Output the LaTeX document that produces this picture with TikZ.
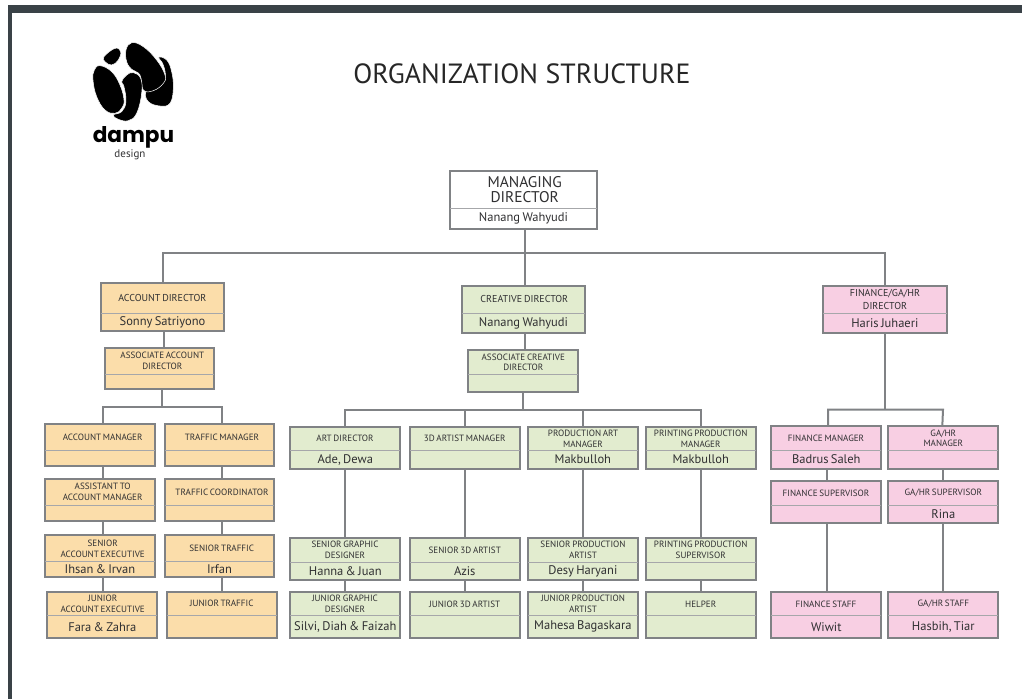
\documentclass[tikz,border=0pt]{standalone}
\usepackage{fontspec}
\setmainfont[WordSpace=0.7]{PT Sans}
\newfontfamily\headfont{PT Sans}
\newfontfamily\logofont{Poppins}
\usetikzlibrary{calc,fit}

\definecolor{framedark}{HTML}{3A4247}
\definecolor{linegray}{HTML}{808285}
\definecolor{inkgray}{HTML}{303032}
\definecolor{accountfill}{HTML}{FBDDAA}
\definecolor{creativefill}{HTML}{E2ECCF}
\definecolor{financefill}{HTML}{F8CFE3}

\newcommand{\orgbox}[8]{
  \node (#2) [orgnode, #1, fit={#3 #4}] {};
  \draw [divider] (#2.west |- 0,#5) -- (#2.east |- 0,#5);
  \coordinate (#2-top) at ($(#2.north)!.5!(#2.north |- 0,#5)$);
  \coordinate (#2-low) at ($(#2.south)!.5!(#2.south |- 0,#5)$);
  \node (#2-title) [titletext, #1, fill=none] at (#6,0 |- #2-top) {#7};
  \if\relax\detokenize{#8}\relax\else
    \node (#2-person) [persontext] at (#2-low) {#8};
  \fi
}

\begin{document}
\begin{tikzpicture}[x=1pt, y=-1pt,
    orgnode/.style={draw=linegray, line width=2pt, inner sep=0pt, outer sep=0pt},
    divider/.style={draw=linegray!70, line width=0.7pt},
    link/.style={draw=linegray, line width=2pt},
    titletext/.style={draw=none, font=\fontsize{9.1}{10.7}\selectfont, text=inkgray, inner sep=0pt, align=center},
    persontext/.style={font=\fontsize{12.5}{14}\selectfont, text=inkgray, inner sep=0pt, align=center},
    account/.style={fill=accountfill},
    creative/.style={fill=creativefill},
    finance/.style={fill=financefill},
    top/.style={fill=white, font=\fontsize{15.5}{14.3}\selectfont},
    director/.style={font=\fontsize{10}{13}\selectfont},
    blob/.style={fill=black, draw=white, line width=0.5pt}]

  \useasboundingbox (0,0) rectangle (1022,699);
  \fill [framedark] (8,5) rectangle (1022,13);
  \fill [framedark] (8,5) rectangle (11.5,699);

  \begin{scope}[x=1pt/3, y=-1pt/3]
    \path [blob] plot [smooth cycle, tension=0.7] coordinates {(476,172) (500,180) (515,215) (520,265) (510,310) (480,318) (445,305) (438,275) (470,265) (495,235) (490,195)};
    \path [blob] plot [smooth cycle, tension=0.7] coordinates {(395,128) (430,140) (470,180) (495,225) (490,250) (460,272) (430,270) (420,225) (395,208) (380,185) (378,150)};
    \path [blob] plot [smooth cycle, tension=0.7] coordinates {(345,145) (362,155) (355,180) (335,195) (315,185) (312,170)};
    \path [blob] plot [smooth cycle, tension=0.7] coordinates {(400,218) (422,235) (425,280) (410,340) (385,362) (355,358) (340,345) (365,335) (378,305) (372,260) (365,245) (380,225)};
    \path [blob] plot [smooth cycle, tension=0.7] coordinates {(300,197) (335,215) (360,255) (372,300) (365,325) (345,340) (315,330) (290,290) (279,240) (283,210)};
  \end{scope}
  \node (logoname) [font=\logofont\bfseries\fontsize{21.6}{23}\selectfont, text=black, inner sep=0pt] at (133.5,137.5) {dampu};
  \node (logosub) [font=\fontsize{11}{11}\selectfont, text=inkgray, inner sep=0pt] at (130,154.5) {design};
  \node (heading) [font=\headfont\fontsize{27.8}{30}\selectfont, text=black!85, inner sep=0pt] at (522,74) {ORGANIZATION STRUCTURE};

  \coordinate (bustop) at (524.7,253.3);
  \coordinate (busaccount) at (162.3,406.7);
  \coordinate (busaccleft) at (102.7,406.7);
  \coordinate (busaccright) at (222,406.7);
  \coordinate (buscreative) at (523.3,410);
  \coordinate (busart) at (345,410);
  \coordinate (bus3d) at (464.7,410);
  \coordinate (busprod) at (583,410);
  \coordinate (busprint) at (700.7,410);
  \coordinate (busfinance) at (885,409.7);
  \coordinate (busfinleft) at (826.5,409.7);
  \coordinate (busfinright) at (943,409.7);

  \orgbox{top}{md}{(450,170.7)}{(597,228.7)}{208.3}{524.7}{MANAGING\\DIRECTOR}{Nanang Wahyudi}

  \orgbox{account, director}{ad}{(100.7,283.3)}{(224.3,331)}{313}{162.3}{ACCOUNT DIRECTOR}{Sonny Satriyono}
  \orgbox{account}{aad}{(105.3,348)}{(214.3,389.3)}{374.3}{162.3}{ASSOCIATE ACCOUNT\\DIRECTOR}{}
  \orgbox{account}{am}{(45,424)}{(155,466)}{450.3}{102.7}{ACCOUNT MANAGER}{}
  \orgbox{account}{tm}{(164.7,424)}{(274.3,466)}{450.3}{222}{TRAFFIC MANAGER}{}
  \orgbox{account}{aam}{(45,479)}{(155,520.7)}{505.3}{102.7}{ASSISTANT TO\\ACCOUNT MANAGER}{}
  \orgbox{account}{tc}{(164.7,479)}{(274.3,520.7)}{505.3}{222}{TRAFFIC COORDINATOR}{}
  \orgbox{account}{sae}{(45,535.3)}{(155,577)}{561.7}{102.7}{SENIOR\\ACCOUNT EXECUTIVE}{Ihsan \& Irvan}
  \orgbox{account}{st}{(164.7,535.3)}{(274.3,577)}{561.7}{221.7}{SENIOR TRAFFIC}{Irfan}
  \orgbox{account}{jae}{(47.3,592)}{(157.3,638)}{615.3}{102.7}{JUNIOR\\ACCOUNT EXECUTIVE}{Fara \& Zahra}
  \orgbox{account}{jt}{(167,592)}{(277,638)}{615.3}{221.7}{JUNIOR TRAFFIC}{}

  \orgbox{creative, director}{cd}{(461.7,285.7)}{(585.3,333.3)}{313}{524.3}{CREATIVE DIRECTOR}{Nanang Wahyudi}
  \orgbox{creative}{acd}{(468.3,350.3)}{(578,392.3)}{374.3}{523.3}{ASSOCIATE CREATIVE\\DIRECTOR}{}
  \orgbox{creative}{art}{(290.3,426.7)}{(400.3,468.7)}{450.3}{345}{ART DIRECTOR}{Ade, Dewa}
  \orgbox{creative}{tdm}{(410,426.7)}{(519.7,468.7)}{450.3}{464.7}{3D ARTIST MANAGER}{}
  \orgbox{creative}{pam}{(528,426.7)}{(637.7,468.7)}{450.3}{583}{PRODUCTION ART\\MANAGER}{Makbulloh}
  \orgbox{creative}{ppm}{(645.7,426.7)}{(755.7,468.7)}{450.3}{700.7}{PRINTING PRODUCTION\\MANAGER}{Makbulloh}
  \orgbox{creative}{sgd}{(290.3,537.7)}{(400.3,579.7)}{562}{345}{SENIOR GRAPHIC\\DESIGNER}{Hanna \& Juan}
  \orgbox{creative}{std}{(410,537.7)}{(519.7,579.7)}{562}{464.7}{SENIOR 3D ARTIST}{Azis}
  \orgbox{creative}{spa}{(528,537.7)}{(637.7,579.7)}{562}{583}{SENIOR PRODUCTION\\ARTIST}{Desy Haryani}
  \orgbox{creative}{pps}{(645.7,537.7)}{(755.7,579.7)}{562}{700.7}{PRINTING PRODUCTION\\SUPERVISOR}{}
  \orgbox{creative}{jgd}{(290.3,592)}{(400.3,638)}{615.7}{345}{JUNIOR GRAPHIC\\DESIGNER}{Silvi, Diah \& Faizah}
  \orgbox{creative}{jtd}{(410,592)}{(519.7,638)}{615.7}{464.7}{JUNIOR 3D ARTIST}{}
  \orgbox{creative}{jpa}{(528,592)}{(637.7,638)}{615.7}{583}{JUNIOR PRODUCTION\\ARTIST}{Mahesa Bagaskara}
  \orgbox{creative}{hlp}{(645.7,592)}{(755.7,638)}{615.7}{700.7}{HELPER}{}

  \orgbox{finance, director}{fd}{(823,285.7)}{(946.7,333.3)}{313}{885}{FINANCE/GA/HR\\DIRECTOR}{Haris Juhaeri}
  \orgbox{finance}{fm}{(771.3,426.3)}{(881.3,468.7)}{450.3}{826}{FINANCE MANAGER}{Badrus Saleh}
  \orgbox{finance}{gm}{(888.3,426.3)}{(998.3,468.7)}{450.3}{943.3}{GA/HR\\MANAGER}{}
  \orgbox{finance}{fs}{(771.3,481.3)}{(881.3,523.3)}{505.3}{826}{FINANCE SUPERVISOR}{}
  \orgbox{finance}{gs}{(888.3,481.3)}{(998.3,523.3)}{505.3}{943.3}{GA/HR SUPERVISOR}{Rina}
  \orgbox{finance}{fst}{(771.3,592.3)}{(881.3,638)}{615.7}{826}{FINANCE STAFF}{Wiwit}
  \orgbox{finance}{gst}{(888.3,592.3)}{(998.3,638)}{615.7}{943.3}{GA/HR STAFF}{Hasbih, Tiar}

  \draw [link] (md.south -| bustop) -- (bustop);
  \draw [link] (ad.north) |- (bustop) -| (fd.north);
  \draw [link] (bustop) -- (cd.north -| bustop);

  \draw [link] (ad.south -| 164,0) -- (aad.north -| 164,0);
  \draw [link] (aad.south -| busaccount) -- (busaccount);
  \draw [link] (am.north -| busaccleft) |- (busaccright) -- (tm.north -| busaccright);
  \draw [link] (am.south -| busaccleft) -- (aam.north -| busaccleft);
  \draw [link] (aam.south -| busaccleft) -- (sae.north -| busaccleft);
  \draw [link] (sae.south -| busaccleft) -- (jae.north -| busaccleft);
  \draw [link] (tm.south -| busaccright) -- (tc.north -| busaccright);
  \draw [link] (tc.south -| busaccright) -- (st.north -| busaccright);
  \draw [link] (st.south -| busaccright) -- (jt.north -| busaccright);

  \draw [link] (cd.south -| bustop) -- (acd.north -| bustop);
  \draw [link] (acd.south -| buscreative) -- (buscreative);
  \draw [link] (art.north -| busart) |- (busprint) -- (ppm.north -| busprint);
  \draw [link] (bus3d) -- (tdm.north -| bus3d);
  \draw [link] (busprod) -- (pam.north -| busprod);
  \draw [link] (art.south -| busart) -- (sgd.north -| busart);
  \draw [link] (sgd.south -| busart) -- (jgd.north -| busart);
  \draw [link] (tdm.south -| bus3d) -- (std.north -| bus3d);
  \draw [link] (std.south -| bus3d) -- (jtd.north -| bus3d);
  \draw [link] (pam.south -| busprod) -- (spa.north -| busprod);
  \draw [link] (spa.south -| busprod) -- (jpa.north -| busprod);
  \draw [link] (ppm.south -| busprint) -- (pps.north -| busprint);
  \draw [link] (pps.south -| busprint) -- (hlp.north -| busprint);

  \draw [link] (fd.south -| busfinance) -- (busfinance);
  \draw [link] (fm.north -| 828,0) |- (busfinright) -- (gm.north -| 942.3,0);
  \draw [link] (fm.south -| busfinleft) -- (fs.north -| busfinleft);
  \draw [link] (fs.south -| busfinleft) -- (fst.north -| busfinleft);
  \draw [link] (gm.south -| busfinright) -- (gs.north -| busfinright);
  \draw [link] (gs.south -| busfinright) -- (gst.north -| busfinright);
\end{tikzpicture}
\end{document}
